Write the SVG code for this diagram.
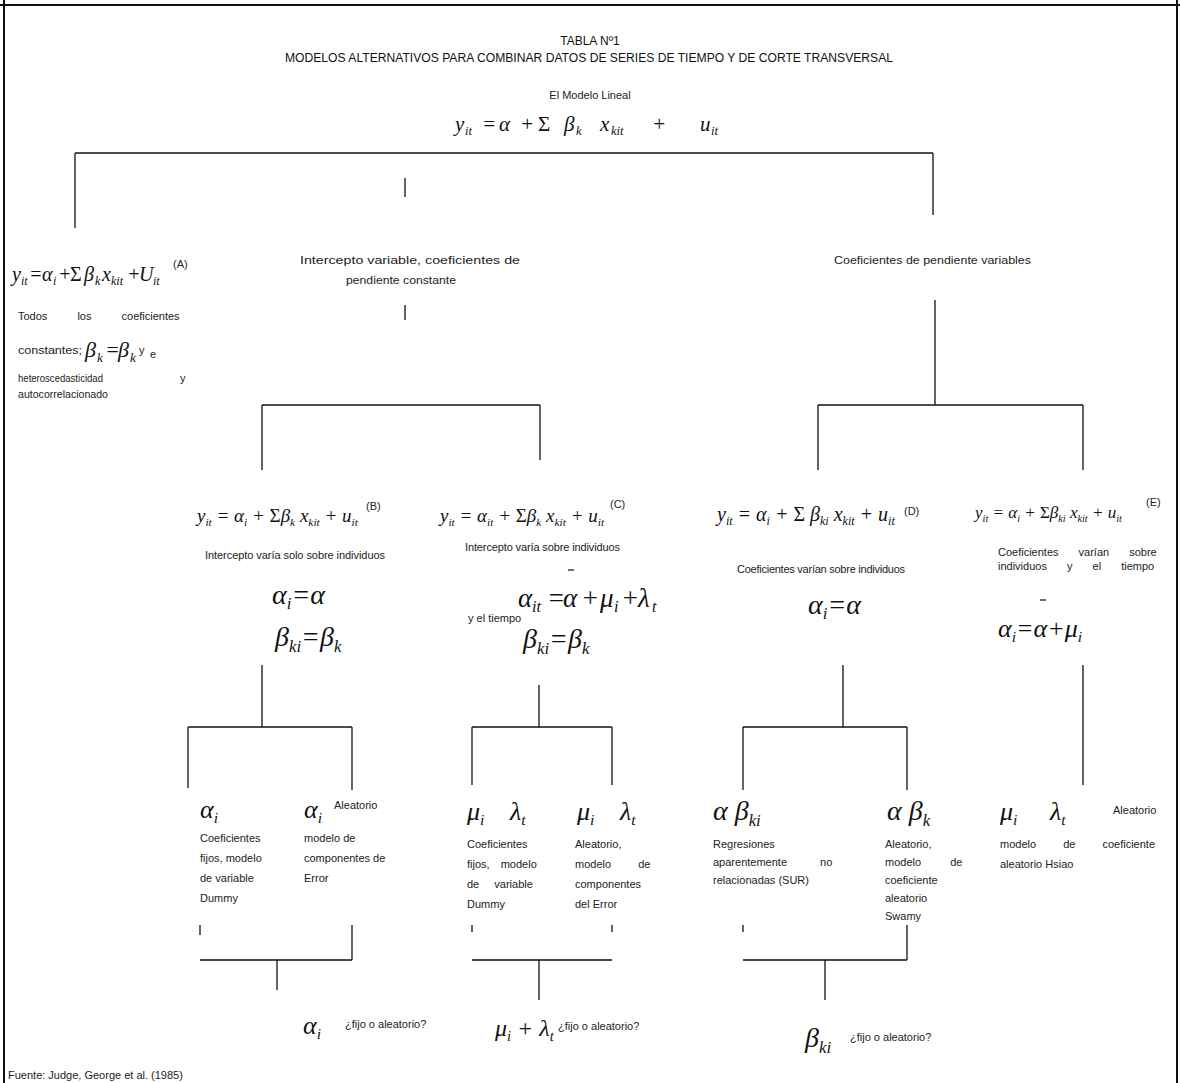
<svg xmlns="http://www.w3.org/2000/svg" width="1180" height="1083" viewBox="0 0 1180 1083">
<style>
.t{font-family:"Liberation Sans",Arial,sans-serif;font-size:11px;fill:#222}
.h{font-family:"Liberation Sans",Arial,sans-serif;font-size:12px;fill:#111}
.m{font-family:"Liberation Serif","Times New Roman",serif;font-style:italic;fill:#111}
.n{font-style:normal}
.s{font-size:60%}
.c line{stroke:#111;stroke-width:1.3}
.bar{stroke:#111;stroke-width:1.2}
.fr{stroke:#111;stroke-width:2}
</style>
<rect width="1180" height="1083" fill="#fff"/>
<g id="frame">
<line class="fr" x1="0" y1="5" x2="1180" y2="5"/>
<line class="fr" x1="4" y1="0" x2="4" y2="1083"/>
<line class="fr" x1="1177" y1="0" x2="1177" y2="1083"/>
</g>
<g id="title">
<text class="h" x="590" y="45" text-anchor="middle">TABLA Nº1</text>
<text class="h" x="285" y="62" textLength="608" lengthAdjust="spacingAndGlyphs">MODELOS ALTERNATIVOS PARA COMBINAR DATOS DE SERIES DE TIEMPO Y DE CORTE TRANSVERSAL</text>
</g>
<g id="root">
<text class="t" x="590" y="99" text-anchor="middle">El Modelo Lineal</text>
<text class="m" x="455" y="131" font-size="21">y<tspan class="s" x="465" dy="4">it</tspan><tspan x="482" dy="-4">=</tspan><tspan x="499">α</tspan><tspan x="520">+</tspan><tspan class="n" x="538">Σ</tspan><tspan x="564">β</tspan><tspan class="s" x="576" dy="4">k</tspan><tspan x="600" dy="-4">x</tspan><tspan class="s" x="611" dy="4">kit</tspan><tspan x="652" dy="-4">+</tspan><tspan x="700">u</tspan><tspan class="s" x="711" dy="4">it</tspan></text>
</g>
<g id="nodeA">
<text class="m" x="12" y="281" font-size="20">y<tspan class="s" x="21" dy="4">it</tspan><tspan x="29" dy="-4">=</tspan><tspan x="42">α</tspan><tspan class="s" x="53" dy="4">i</tspan><tspan x="58" dy="-4">+</tspan><tspan class="n" x="70">Σ</tspan><tspan x="84">β</tspan><tspan class="s" x="95" dy="4">k</tspan><tspan x="102" dy="-4">x</tspan><tspan class="s" x="111" dy="4">kit</tspan><tspan x="127" dy="-4">+</tspan><tspan x="139">U</tspan><tspan class="s" x="153" dy="4">it</tspan></text>
<text class="t" x="173" y="268">(A)</text>
<text class="t" x="18" y="320" word-spacing="27">Todos los coeficientes</text>
<text class="t" x="18" y="354" textLength="64" lengthAdjust="spacingAndGlyphs">constantes;</text>
<text class="m" x="85" y="357" font-size="22">β<tspan class="s" x="97" dy="5">k</tspan><tspan x="105" dy="-5">=</tspan><tspan x="118">β</tspan><tspan class="s" x="130" dy="5">k</tspan></text>
<text class="t" x="139" y="354">y</text>
<text class="t" x="150" y="358" font-size="21">e</text>
<text class="t" x="18" y="382" textLength="85" lengthAdjust="spacingAndGlyphs">heteroscedasticidad</text>
<text class="t" x="180" y="382">y</text>
<text class="t" x="18" y="398" textLength="90" lengthAdjust="spacingAndGlyphs">autocorrelacionado</text>
</g>
<g id="headB">
<text class="t" x="300" y="264" textLength="220" lengthAdjust="spacingAndGlyphs">Intercepto variable, coeficientes de</text>
<text class="t" x="346" y="284" textLength="110" lengthAdjust="spacingAndGlyphs">pendiente constante</text>
</g>
<g id="headD">
<text class="t" x="834" y="264" textLength="197" lengthAdjust="spacingAndGlyphs">Coeficientes de pendiente variables</text>
</g>
<g id="nodeB">
<text class="m" x="197" y="522" font-size="19">y<tspan class="s" dy="4">it</tspan><tspan dy="-4"> = α</tspan><tspan class="s" dy="4">i</tspan><tspan dy="-4"> + </tspan><tspan class="n">Σ</tspan><tspan>β</tspan><tspan class="s" dy="4">k</tspan><tspan dy="-4"> x</tspan><tspan class="s" dy="4">kit</tspan><tspan dy="-4"> + u</tspan><tspan class="s" dy="4">it</tspan></text>
<text class="t" x="366" y="510">(B)</text>
<text class="t" x="205" y="559" textLength="180" lengthAdjust="spacing">Intercepto varía solo sobre individuos</text>
<text class="m" x="272" y="604" font-size="28">α<tspan class="s" dy="5">i</tspan><tspan dy="-5">=α</tspan></text>
<text class="m" x="275" y="646" font-size="28">β<tspan class="s" dy="6">ki</tspan><tspan dy="-6">=β</tspan><tspan class="s" dy="6">k</tspan></text>
</g>
<g id="nodeC">
<text class="m" x="440" y="522" font-size="19">y<tspan class="s" dy="4">it</tspan><tspan dy="-4"> = α</tspan><tspan class="s" dy="4">it</tspan><tspan dy="-4"> + </tspan><tspan class="n">Σ</tspan><tspan>β</tspan><tspan class="s" dy="4">k</tspan><tspan dy="-4"> x</tspan><tspan class="s" dy="4">kit</tspan><tspan dy="-4"> + u</tspan><tspan class="s" dy="4">it</tspan></text>
<text class="t" x="610" y="508">(C)</text>
<text class="t" x="465" y="551" textLength="155" lengthAdjust="spacing">Intercepto varía sobre individuos</text>
<text class="t" x="468" y="622">y el tiempo</text>
<text class="m" x="518" y="607" font-size="27">α<tspan class="s" x="532" dy="5">it</tspan><tspan x="547" dy="-5">=</tspan><tspan x="563">α</tspan><tspan x="581">+</tspan><tspan x="600">μ</tspan><tspan class="s" x="614" dy="5">i</tspan><tspan x="621" dy="-5">+</tspan><tspan x="638">λ</tspan><tspan class="s" x="652" dy="5">t</tspan></text>
<line class="bar" x1="568" y1="570" x2="574" y2="570"/>
<text class="m" x="523" y="648" font-size="28">β<tspan class="s" dy="6">ki</tspan><tspan dy="-6">=β</tspan><tspan class="s" dy="6">k</tspan></text>
</g>
<g id="nodeD">
<text class="m" x="717" y="521" font-size="20">y<tspan class="s" dy="4">it</tspan><tspan dy="-4"> = α</tspan><tspan class="s" dy="4">i</tspan><tspan dy="-4"> + </tspan><tspan class="n">Σ</tspan><tspan> β</tspan><tspan class="s" dy="4">ki</tspan><tspan dy="-4">  x</tspan><tspan class="s" dy="4">kit</tspan><tspan dy="-4"> + u</tspan><tspan class="s" dy="4">it</tspan></text>
<text class="t" x="904" y="515">(D)</text>
<text class="t" x="737" y="573" textLength="168" lengthAdjust="spacing">Coeficientes varían sobre individuos</text>
<text class="m" x="808" y="614" font-size="28">α<tspan class="s" dy="5">i</tspan><tspan dy="-5">=α</tspan></text>
</g>
<g id="nodeE">
<text class="m" x="975" y="518" font-size="17">y<tspan class="s" dy="4">it</tspan><tspan dy="-4"> = α</tspan><tspan class="s" dy="4">i</tspan><tspan dy="-4"> + </tspan><tspan class="n">Σ</tspan><tspan>β</tspan><tspan class="s" dy="4">ki</tspan><tspan dy="-4"> x</tspan><tspan class="s" dy="4">kit</tspan><tspan dy="-4"> + u</tspan><tspan class="s" dy="4">it</tspan></text>
<text class="t" x="1146" y="506">(E)</text>
<text class="t" x="998" y="556" word-spacing="17">Coeficientes varían sobre</text>
<text class="t" x="998" y="570" word-spacing="17">individuos y el tiempo</text>
<text class="m" x="998" y="637" font-size="26">α<tspan class="s" dy="5">i</tspan><tspan dy="-5">=α+μ</tspan><tspan class="s" dy="5">i</tspan></text>
<line class="bar" x1="1040" y1="600" x2="1046" y2="600"/>
</g>
<g id="leafB1">
<text class="m" x="200" y="818" font-size="26">α<tspan class="s" dy="5">i</tspan></text>
<text class="t" x="200" y="842">Coeficientes</text>
<text class="t" x="200" y="862">fijos, modelo</text>
<text class="t" x="200" y="882">de variable</text>
<text class="t" x="200" y="902">Dummy</text>
</g>
<g id="leafB2">
<text class="m" x="304" y="818" font-size="26">α<tspan class="s" dy="5">i</tspan></text>
<text class="t" x="334" y="809">Aleatorio</text>
<text class="t" x="304" y="842">modelo de</text>
<text class="t" x="304" y="862">componentes de</text>
<text class="t" x="304" y="882">Error</text>
</g>
<g id="leafC1">
<text class="m" x="467" y="820" font-size="26">μ<tspan class="s" dy="5">i</tspan><tspan x="510" dy="-5">λ</tspan><tspan class="s" dy="5">t</tspan></text>
<text class="t" x="467" y="848">Coeficientes</text>
<text class="t" x="467" y="868" word-spacing="8">fijos, modelo</text>
<text class="t" x="467" y="888" word-spacing="12">de variable</text>
<text class="t" x="467" y="908">Dummy</text>
</g>
<g id="leafC2">
<text class="m" x="577" y="820" font-size="26">μ<tspan class="s" dy="5">i</tspan><tspan x="620" dy="-5">λ</tspan><tspan class="s" dy="5">t</tspan></text>
<text class="t" x="575" y="848">Aleatorio,</text>
<text class="t" x="575" y="868" word-spacing="24">modelo de</text>
<text class="t" x="575" y="888">componentes</text>
<text class="t" x="575" y="908">del Error</text>
</g>
<g id="leafD1">
<text class="m" x="713" y="820" font-size="28">α β<tspan class="s" dy="6">ki</tspan></text>
<text class="t" x="713" y="848">Regresiones</text>
<text class="t" x="713" y="866" word-spacing="30">aparentemente no</text>
<text class="t" x="713" y="884">relacionadas (SUR)</text>
</g>
<g id="leafD2">
<text class="m" x="887" y="820" font-size="28">α β<tspan class="s" dy="6">k</tspan></text>
<text class="t" x="885" y="848">Aleatorio,</text>
<text class="t" x="885" y="866" word-spacing="26">modelo de</text>
<text class="t" x="885" y="884">coeficiente</text>
<text class="t" x="885" y="902">aleatorio</text>
<text class="t" x="885" y="920">Swamy</text>
</g>
<g id="leafE">
<text class="m" x="1000" y="820" font-size="26">μ<tspan class="s" dy="5">i</tspan><tspan x="1050" dy="-5">λ</tspan><tspan class="s" dy="5">t</tspan></text>
<text class="t" x="1113" y="814">Aleatorio</text>
<text class="t" x="1000" y="848" word-spacing="24">modelo de coeficiente</text>
<text class="t" x="1000" y="868">aleatorio Hsiao</text>
</g>
<g id="qB">
<text class="m" x="303" y="1034" font-size="26">α<tspan class="s" dy="5">i</tspan></text>
<text class="t" x="345" y="1028" font-size="10">¿fijo o aleatorio?</text>
</g>
<g id="qC">
<text class="m" x="495" y="1036" font-size="24">μ<tspan class="s" dy="5">i</tspan><tspan dy="-5"> + λ</tspan><tspan class="s" dy="5">t</tspan></text>
<text class="t" x="558" y="1030" font-size="10">¿fijo o aleatorio?</text>
</g>
<g id="qD">
<text class="m" x="805" y="1047" font-size="28">β<tspan class="s" dy="6">ki</tspan></text>
<text class="t" x="850" y="1041" font-size="10">¿fijo o aleatorio?</text>
</g>
<g id="source">
<text class="t" x="8" y="1079" font-size="9">Fuente: Judge, George et al. (1985)</text>
</g>
<g class="c" id="connectors">
<line x1="75" y1="153" x2="933" y2="153"/>
<line x1="75" y1="153" x2="75" y2="228"/>
<line x1="405" y1="178" x2="405" y2="197"/>
<line x1="933" y1="153" x2="933" y2="215"/>
<line x1="405" y1="305" x2="405" y2="320"/>
<line x1="262" y1="405" x2="540" y2="405"/>
<line x1="262" y1="405" x2="262" y2="470"/>
<line x1="540" y1="405" x2="540" y2="460"/>
<line x1="935" y1="300" x2="935" y2="405"/>
<line x1="818" y1="405" x2="1083" y2="405"/>
<line x1="818" y1="405" x2="818" y2="470"/>
<line x1="1083" y1="405" x2="1083" y2="470"/>
<line x1="262" y1="665" x2="262" y2="727"/>
<line x1="188" y1="727" x2="352" y2="727"/>
<line x1="188" y1="727" x2="188" y2="788"/>
<line x1="352" y1="727" x2="352" y2="790"/>
<line x1="539" y1="685" x2="539" y2="727"/>
<line x1="472" y1="727" x2="612" y2="727"/>
<line x1="472" y1="727" x2="472" y2="785"/>
<line x1="612" y1="727" x2="612" y2="785"/>
<line x1="843" y1="665" x2="843" y2="727"/>
<line x1="743" y1="727" x2="907" y2="727"/>
<line x1="743" y1="727" x2="743" y2="790"/>
<line x1="907" y1="727" x2="907" y2="790"/>
<line x1="1083" y1="665" x2="1083" y2="785"/>
<line x1="200" y1="925" x2="200" y2="935"/>
<line x1="352" y1="925" x2="352" y2="960"/>
<line x1="200" y1="960" x2="352" y2="960"/>
<line x1="277" y1="960" x2="277" y2="990"/>
<line x1="472" y1="925" x2="472" y2="932"/>
<line x1="612" y1="925" x2="612" y2="932"/>
<line x1="472" y1="960" x2="612" y2="960"/>
<line x1="539" y1="960" x2="539" y2="1000"/>
<line x1="743" y1="925" x2="743" y2="932"/>
<line x1="907" y1="925" x2="907" y2="960"/>
<line x1="743" y1="960" x2="907" y2="960"/>
<line x1="825" y1="960" x2="825" y2="1000"/>
</g>
</svg>
